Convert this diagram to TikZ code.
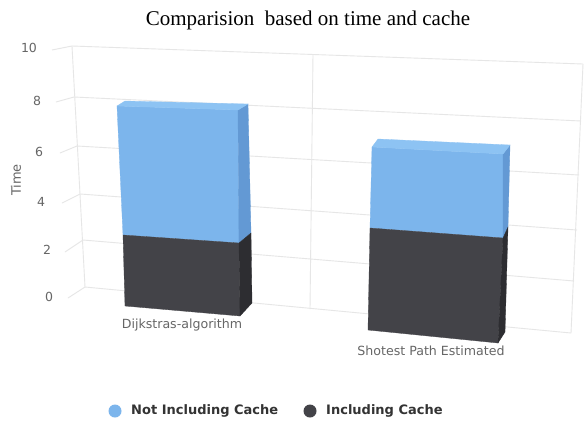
\documentclass[tikz,border=0pt]{standalone}
\usepackage{fontspec}
\setmainfont{Liberation Serif}
\newfontfamily\labfont{DejaVu Sans}
\definecolor{gridc}{HTML}{E6E6E6}
\definecolor{axlab}{HTML}{666666}
\definecolor{bfront}{HTML}{7CB5EC}
\definecolor{bside}{HTML}{6399D4}
\definecolor{btop}{HTML}{8DC3F3}
\definecolor{dfront}{HTML}{434348}
\definecolor{dside}{HTML}{2D2D31}
\definecolor{legtext}{HTML}{333333}
\begin{document}
\begin{tikzpicture}[x=1pt,y=-1pt,
  gridline/.style={draw=gridc,line width=0.9pt},
  axislabel/.style={text=axlab,font=\labfont\fontsize{12.5}{14}\selectfont,inner sep=0pt},
  catlabel/.style={text=axlab,font=\labfont\fontsize{12.6}{14}\selectfont,inner sep=0pt},
  legendlabel/.style={text=legtext,font=\labfont\bfseries\fontsize{13}{15}\selectfont,inner sep=0pt,anchor=west},
  face/.style={line width=0.3pt}]
\useasboundingbox (0,0) rectangle (585,421);
\fill[white] (0,0) rectangle (585,421);
% grid lines (side wall + back wall)
\foreach \fx/\fy/\lx/\ly/\rx/\ry in {68/298/85/287/571/333, 65/252/83/240/574/281, 62/203/80/194/577/230, 60/153/77/146/579/175, 56/102/74/97/581/121, 52/50/72/46/583/64}
  \draw[gridline] (\fx,\fy) -- (\lx,\ly) -- (\rx,\ry);
\draw[gridline] (72,46) -- (85,287);
\draw[gridline] (583,64) -- (571,333);
\draw[gridline] (313,54) -- (310,309);
% title
\node (title) at (308,20) {\fontsize{21}{24}\selectfont Comparision\ \ based on time and cache};
% y labels
\node[axislabel] (y10) at (29,48) {10};
\node[axislabel] (y8) at (37,101) {8};
\node[axislabel] (y6) at (39,152) {6};
\node[axislabel] (y4) at (41,202) {4};
\node[axislabel] (y2) at (47,250) {2};
\node[axislabel] (y0) at (49,297) {0};
\node[axislabel,font=\labfont\fontsize{13}{15}\selectfont,rotate=90] (ytitle) at (16,180) {Time};
% bar 1
\filldraw[face,fill=bfront,draw=bfront] (117,106) -- (238,110) -- (239,243) -- (123,235) -- cycle;
\filldraw[face,fill=dfront,draw=dfront] (123,235) -- (239,243) -- (240,316) -- (125,306) -- cycle;
\filldraw[face,fill=bside,draw=bside] (238,110) -- (248,104) -- (251,233) -- (239,243) -- cycle;
\filldraw[face,fill=dside,draw=dside] (239,243) -- (251,233) -- (252,303) -- (240,316) -- cycle;
\filldraw[face,fill=btop,draw=btop] (117,106) -- (125,101) -- (248,104) -- (238,110) -- cycle;
% bar 2
\filldraw[face,fill=bfront,draw=bfront] (372,147) -- (503,154) -- (503,238) -- (370,228) -- cycle;
\filldraw[face,fill=dfront,draw=dfront] (370,228) -- (503,238) -- (498,343) -- (368,330) -- cycle;
\filldraw[face,fill=bside,draw=bside] (503,154) -- (510,145) -- (508,227) -- (503,238) -- cycle;
\filldraw[face,fill=dside,draw=dside] (503,238) -- (508,227) -- (505,332) -- (498,343) -- cycle;
\filldraw[face,fill=btop,draw=btop] (372,147) -- (378,139) -- (510,145) -- (503,154) -- cycle;
% category labels
\node[catlabel] (cat1) at (182,325) {Dijkstras-algorithm};
\node[catlabel] (cat2) at (431,351) {Shotest Path Estimated};
% legend
\fill[bfront] (115,411) circle (6.5);
\node[legendlabel] (leg1) at (131,411) {Not Including Cache};
\fill[dfront] (310,411) circle (6.5);
\node[legendlabel] (leg2) at (326,411) {Including Cache};
\end{tikzpicture}
\end{document}
